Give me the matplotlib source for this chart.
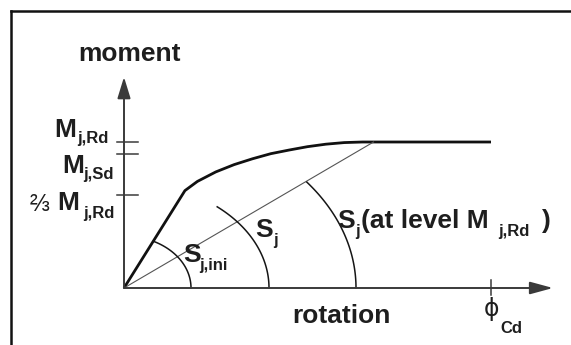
import numpy as np
import matplotlib.pyplot as plt
from matplotlib.lines import Line2D

# moment-rotation curve (moment relative to M_j,Rd, rotation in arbitrary units)
phi = [0, 1.66, 2.0, 2.5, 3.0, 3.5, 4.0, 4.5, 5.0, 5.5, 6.0, 6.5, 10.0]
moment = [0, 0.667, 0.73, 0.795, 0.845, 0.885, 0.92, 0.945, 0.968, 0.985, 0.996, 1.0, 1.0]

# levels on the moment axis
m_rd = 1.0
m_sd = 0.918
m_23 = 0.64
phi_cd = 10.0
phi_secant = 6.8  # where the secant S_j reaches M_j,Rd

W, H = 571, 345
PX_X = 36.7   # pixels per rotation unit
PX_Y = 146.0  # pixels per moment unit
X0, Y0 = 124, 288  # origin in pixels

fig = plt.figure(figsize=(W / 100, H / 100), dpi=100)
ax = fig.add_axes([0, 0, 1, 1])
ax.set_xlim(-X0 / PX_X, (W - X0) / PX_X)
ax.set_ylim((Y0 - H) / PX_Y, Y0 / PX_Y)
ax.axis('off')

axis_col = '#3a3a3a'
txt_col = '#1e1e1e'

# frame (top and left only)
fig.add_artist(Line2D([11 / W, 1.0], [1 - 11 / H, 1 - 11 / H], color='#111111', lw=1.8))
fig.add_artist(Line2D([11 / W, 11 / W], [1 - 11 / H, 0.0], color='#111111', lw=1.8))

# axes with arrow heads
x_tip = (553 - X0) / PX_X
y_tip = (Y0 - 77) / PX_Y
ax.annotate('', xy=(x_tip, 0), xytext=(0, 0),
            arrowprops=dict(arrowstyle='-|>,head_length=1.4,head_width=0.38', mutation_scale=10,
                            color=axis_col, lw=1.4, shrinkA=0, shrinkB=0))
ax.annotate('', xy=(0, y_tip), xytext=(0, 0),
            arrowprops=dict(arrowstyle='-|>,head_length=1.3,head_width=0.4', mutation_scale=10,
                            color=axis_col, lw=1.4, shrinkA=0, shrinkB=0))

# ticks on moment axis
for lv in [m_rd, m_sd, m_23]:
    ax.plot([-7 / PX_X, 14 / PX_X], [lv, lv], color=axis_col, lw=1.1)
ax.plot([phi_cd, phi_cd], [8 / PX_Y, -7 / PX_Y], color=axis_col, lw=1.1)

# curve and secant
ax.plot(phi, moment, color='#111111', lw=2.0, solid_capstyle='butt')
ax.plot([0, phi_secant], [0, m_rd], color='#555555', lw=0.8)


def arc(a, b, t_end):
    t = np.radians(np.linspace(0, t_end, 60))
    ax.plot(a * np.cos(t) / PX_X, b * np.sin(t) / PX_Y, color='#151515', lw=1.1)


arc(67, 52, 64)
arc(145, 106, 50)
arc(232, 172, 38)


def label(x, y, s, size, bold=True, **kw):
    fig.text(x / W, 1 - y / H, s, fontsize=size, color=txt_col,
             fontweight='bold' if bold else 'normal',
             family=['Liberation Sans', 'DejaVu Sans'], va='baseline', **kw)


big = 19
sub = 12
label(129, 61, 'moment', big, ha='center')
label(292, 323, 'rotation', big)

label(54, 137, 'M', big)
label(77, 143, 'j,Rd', sub)
label(62, 173, 'M', big)
label(83, 179, 'j,Sd', sub)
label(30, 211, '⅔', 17, bold=False)
label(57, 210, 'M', big)
label(83, 218, 'j,Rd', sub)

label(183, 262, 'S', big)
label(199, 270, 'j,ini', sub)
label(255, 237, 'S', big)
label(273, 245, 'j', sub)
label(337, 228, 'S', big)
label(355, 236, 'j', sub)
label(361, 228, '(at level M', big)
label(498, 236, 'j,Rd', sub)
label(542, 228, ')', big)

fig.text(484 / W, 1 - 316 / H, 'ϕ', fontsize=17, color=txt_col, family=['DejaVu Sans'], va='baseline')
label(500, 333, 'Cd', sub)

fig.savefig('out.png', dpi=100, facecolor='white')
